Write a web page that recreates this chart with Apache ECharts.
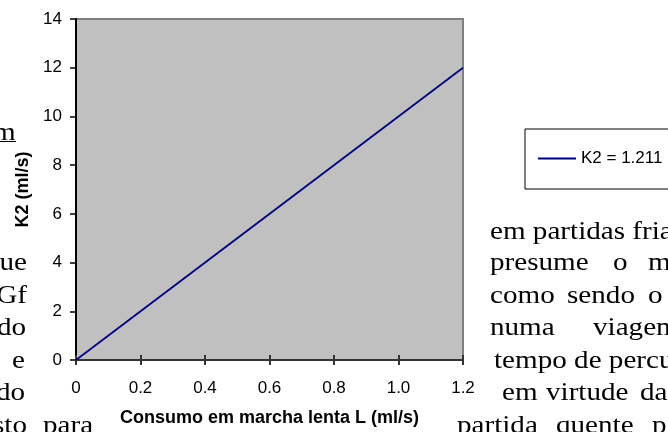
<!DOCTYPE html>
<html>
<head>
<meta charset="utf-8">
<script src="https://cdn.jsdelivr.net/npm/echarts@6/dist/echarts.min.js"></script>
<style>
  html, body { margin: 0; padding: 0; background: #fff; }
  #chart { width: 668px; height: 432px; }
</style>
</head>
<body>
<div id="chart"></div>
<script>
// Fitted idle-consumption line: K2 against L
const consumoL = [0, 1.2];
const k2Values = [0, 12];
const xTickLabels = ['0', '0.2', '0.4', '0.6', '0.8', '1.0', '1.2'];
const seriesName = 'K2 = 1.211';

// Surrounding page text (serif body copy around the embedded chart); y is the baseline
const leftWords = [
  { t: 'm', x: -7, y: 137, align: 'left', underline: true },
  { t: 'ue', x: 27, y: 267, align: 'right' },
  { t: 'Gf', x: 27, y: 300, align: 'right' },
  { t: 'do', x: 26, y: 332, align: 'right' },
  { t: 'e', x: 25, y: 365, align: 'right' },
  { t: 'do', x: 25, y: 397, align: 'right' },
  { t: 'sto', x: 27, y: 430, align: 'right' },
  { t: 'para', x: 43, y: 430, align: 'left' }
];
const rightWords = [
  { t: 'em partidas fria', x: 490, y: 236 },
  { t: 'presume', x: 490, y: 267 },
  { t: 'o', x: 613, y: 267 },
  { t: 'm', x: 648, y: 267 },
  { t: 'como', x: 490, y: 300 },
  { t: 'sendo', x: 567, y: 300 },
  { t: 'o', x: 648, y: 300 },
  { t: 'numa', x: 490, y: 332 },
  { t: 'viagem', x: 593, y: 332 },
  { t: 'tempo de percu', x: 494, y: 365 },
  { t: 'em', x: 502, y: 397 },
  { t: 'virtude', x: 546, y: 397 },
  { t: 'da', x: 640, y: 397 },
  { t: 'partida', x: 457, y: 430 },
  { t: 'quente', x: 556, y: 430 },
  { t: 'p', x: 652, y: 430 }
];

const serifSize = 26;
const serif = { fontFamily: '"Liberation Serif", "Times New Roman", serif', fontSize: serifSize, fill: '#000' };
const pageText = [];
leftWords.concat(rightWords.map(w => Object.assign({ align: 'left' }, w))).forEach(w => {
  pageText.push({
    type: 'text', z: 0, silent: true,
    x: w.x, y: w.y - 4, scaleX: 1.12, originX: 0,
    style: Object.assign({}, serif, { text: w.t, textAlign: w.align, textVerticalAlign: 'middle' })
  });
  if (w.underline) {
    pageText.push({ type: 'line', z: 0, silent: true,
      shape: { x1: 0, y1: 141.5, x2: 16, y2: 141.5 },
      style: { stroke: '#000', lineWidth: 1 } });
  }
});

const sans = '"Liberation Sans", Arial, sans-serif';
const chart = echarts.init(document.getElementById('chart'), null, { renderer: 'canvas' });

chart.setOption({
  backgroundColor: '#fff',
  animation: false,
  textStyle: { fontFamily: sans },
  graphic: pageText,
  grid: {
    left: 76, top: 19, right: 205, bottom: 72,
    show: true, backgroundColor: '#c0c0c0', borderColor: '#808080', borderWidth: 2
  },
  legend: {
    data: [{ name: seriesName, icon: 'rect' }],
    left: 525, top: 129,
    padding: [21, 300, 22, 13],
    itemWidth: 38, itemHeight: 2,
    borderColor: '#000', borderWidth: 1,
    backgroundColor: '#fff',
    textStyle: { fontFamily: sans, fontSize: 17, color: '#000' }
  },
  xAxis: [{
    type: 'value', min: 0, max: 1.2, interval: 0.2,
    name: 'Consumo em marcha lenta L (ml/s)', nameLocation: 'middle', nameGap: 49,
    nameTextStyle: { fontFamily: sans, fontSize: 18, fontWeight: 'bold', color: '#000' },
    axisLine: { lineStyle: { color: '#333', width: 2 } },
    axisTick: { show: true, length: 5, lineStyle: { color: '#333', width: 2 } },
    axisLabel: {
      margin: 20, fontSize: 17, color: '#000', fontFamily: sans,
      formatter: (v) => xTickLabels[Math.round(v / 0.2)]
    },
    splitLine: { show: false }
  }, {
    type: 'value', min: 0, max: 1.2, interval: 0.2, position: 'bottom',
    axisLine: { show: false },
    axisTick: { show: true, inside: true, length: 5, lineStyle: { color: '#333', width: 2 } },
    axisLabel: { show: false },
    splitLine: { show: false }
  }],
  yAxis: {
    type: 'value', min: 0, max: 14, interval: 2,
    name: 'K2 (ml/s)', nameLocation: 'middle', nameGap: 43,
    nameTextStyle: { fontFamily: sans, fontSize: 18, fontWeight: 'bold', color: '#000' },
    axisLine: { show: true, lineStyle: { color: '#000', width: 2 } },
    axisTick: { show: true, length: 6, lineStyle: { color: '#000', width: 1.5 } },
    axisLabel: { margin: 14, fontSize: 17, color: '#000', fontFamily: sans },
    splitLine: { show: false }
  },
  series: [{
    name: seriesName,
    type: 'line',
    xAxisIndex: 0,
    data: consumoL.map((l, i) => [l, k2Values[i]]),
    symbol: 'none',
    color: '#000080',
    lineStyle: { color: '#000080', width: 1.8 }
  }]
});
</script>
</body>
</html>
